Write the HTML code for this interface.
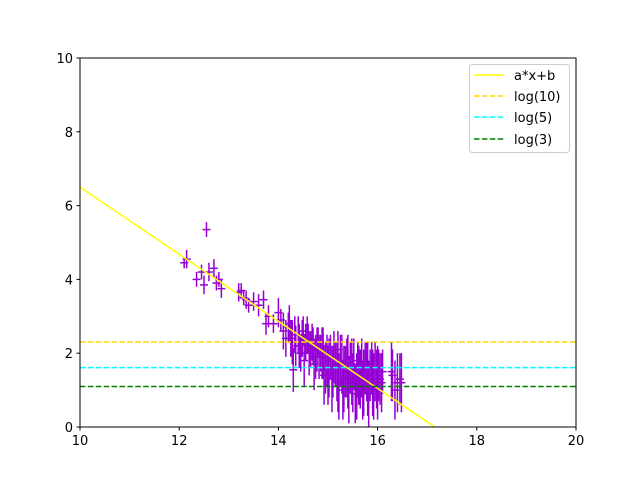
<!DOCTYPE html>
<html><head><meta charset="utf-8"><style>
html,body{margin:0;padding:0;background:#fff;width:640px;height:480px;overflow:hidden}
svg{display:block}
svg text{font-family:"DejaVu Sans","Liberation Sans",sans-serif;font-size:13px;fill:#000}
</style></head><body>
<svg id="chart" width="640" height="480" xmlns="http://www.w3.org/2000/svg">
<rect width="640" height="480" fill="#fff"/>
<g id="marks"></g>
<g id="axes"></g>
<g id="legend">
<rect x="469.5" y="64.5" width="100" height="88" rx="3" fill="#fff" fill-opacity="0.8" stroke="#ccc"/>
<line x1="474" y1="75" x2="504" y2="75" stroke="#ffff00" stroke-width="1.5"/>
<text x="514" y="80">a*x+b</text>
<line x1="474" y1="96" x2="504" y2="96" stroke="#ffd700" stroke-width="1.5" stroke-dasharray="5.5,2.4"/>
<text x="514" y="101">log(10)</text>
<line x1="474" y1="117" x2="504" y2="117" stroke="#00ffff" stroke-width="1.5" stroke-dasharray="5.5,2.4"/>
<text x="514" y="122">log(5)</text>
<line x1="474" y1="139" x2="504" y2="139" stroke="#008000" stroke-width="1.5" stroke-dasharray="5.5,2.4"/>
<text x="514" y="144">log(3)</text>
</g>
</svg>
<script>
const xs=[12.15,12.1,12.55,12.35,12.45,12.5,12.6,12.7,12.75,12.85,12.8,13.2,13.25,13.3,13.35,13.4,13.5,13.6,13.7,13.75,13.8,13.9,14.0,14.05,14.1,14.15,14.2,14.25,14.3,14.35,14.4,14.45,14.5,14.55,14.6,14.65,14.7,14.75,14.8,14.85,14.9,14.95,15.0,15.05,15.1,15.15,15.2,15.25,15.3,15.35,15.4,15.45,15.5,15.55,15.6,15.65,15.7,15.75,15.8,15.85,15.9,15.95,16.0,16.05,16.1,16.3,16.4,16.45,15.2,15.4,15.6,15.8,16.0,14.9,
14.22,14.28,14.33,14.42,14.48,14.52,14.58,14.62,14.68,14.72,14.78,14.82,14.88,14.92,14.98,15.02,15.08,15.12,15.18,15.22,15.28,15.32,15.38,15.42,15.48,15.52,15.58,15.62,15.68,15.72,15.78,15.82,15.88,15.92,15.98,16.02,16.08,16.28,16.35,16.48];
const ys=[4.55,4.45,5.35,4.0,4.2,3.85,4.2,4.3,3.9,3.75,4.0,3.65,3.7,3.5,3.45,3.3,3.4,3.3,3.45,2.8,3.0,2.8,3.1,2.9,2.6,2.4,2.7,2.4,1.55,2.2,2.5,2.0,2.6,2.3,2.4,2.1,2.2,1.9,2.3,2.0,2.2,1.6,1.4,1.9,1.5,1.7,1.2,1.8,1.0,1.5,1.3,1.6,1.2,0.9,1.5,1.3,1.0,1.6,1.1,1.4,1.2,1.5,1.0,1.3,1.5,1.4,1.2,1.3,2.1,1.9,1.8,1.7,1.6,1.9,
2.8,2.3,2.5,2.2,2.4,1.8,2.5,2.0,2.3,1.7,2.1,1.9,2.0,1.4,1.8,1.6,1.3,1.9,1.5,1.1,1.7,1.3,1.6,1.0,1.5,1.7,1.1,1.4,1.6,1.2,1.5,0.9,1.6,1.1,1.3,1.4,1.2,1.5,1.0,1.2];
const yerr=[0.25,0.15,0.2,0.2,0.2,0.25,0.25,0.25,0.2,0.25,0.2,0.25,0.2,0.2,0.25,0.2,0.25,0.3,0.25,0.3,0.3,0.25,0.4,0.3,0.5,0.5,0.4,0.5,0.6,0.55,0.5,0.5,0.4,0.5,0.4,0.5,0.5,0.6,0.4,0.5,0.5,0.7,0.8,0.6,0.7,0.6,0.8,0.7,0.8,0.7,0.8,0.7,0.8,0.8,0.7,0.8,0.8,0.7,0.8,0.7,0.9,0.8,0.8,0.7,0.6,0.7,0.8,0.7,0.5,0.6,0.5,0.6,0.6,0.6,
0.5,0.6,0.5,0.6,0.5,0.7,0.5,0.6,0.5,0.7,0.6,0.6,0.7,0.8,0.7,0.8,0.9,0.7,0.8,0.9,0.8,0.9,0.8,0.9,0.9,0.7,0.9,0.8,0.8,0.9,0.8,0.9,0.7,0.9,0.8,0.7,0.8,0.8,0.8,0.8];
const xerr=0.08;
const fitA=-0.909, fitB=15.59;
const hlines=[2.3026,1.6094,1.0986];
const hcolors=['#ffd700','#00ffff','#008000'];
const hnames=['log10-line','log5-line','log3-line'];
const xTicks=[10,12,14,16,18,20];
const yTicks=[0,2,4,6,8,10];
const X0=80,X1=576,Y0=427,Y1=58;
const sx=v=>X0+(v-10)/10*(X1-X0);
const sy=v=>Y0-(v/10)*(Y0-Y1);
const NS='http://www.w3.org/2000/svg';
function mk(tag,attrs,parent){const e=document.createElementNS(NS,tag);for(const k in attrs)e.setAttribute(k,attrs[k]);parent.appendChild(e);return e;}
const marks=document.getElementById('marks');
const clip=mk('clipPath',{id:'cp'},marks);mk('rect',{x:X0,y:Y1,width:X1-X0,height:Y0-Y1},clip);
const g=mk('g',{'clip-path':'url(#cp)'},marks);
for(let i=0;i<xs.length;i++){
 const eb=mk('g',{stroke:'#9400d3','stroke-width':1.5},g);
 
 
 mk('line',{x1:sx(xs[i]),x2:sx(xs[i]),y1:sy(ys[i]-yerr[i]),y2:sy(ys[i]+yerr[i])},eb);
 mk('line',{x1:sx(xs[i]-xerr),x2:sx(xs[i]+xerr),y1:sy(ys[i]),y2:sy(ys[i])},eb);
}
const fit=mk('line',{x1:sx(10),y1:sy(fitA*10+fitB),x2:sx(20),y2:sy(fitA*20+fitB),stroke:'#ffff00','stroke-width':1.5},g);


hlines.forEach((v,i)=>{
 const l=mk('line',{x1:X0,x2:X1,y1:sy(v),y2:sy(v),stroke:hcolors[i],'stroke-width':1.5,'stroke-dasharray':'5.5,2.4'},g);
 
 
});
const axes=document.getElementById('axes');
const fr=mk('rect',{x:X0,y:Y1,width:X1-X0,height:Y0-Y1,fill:'none',stroke:'#000','stroke-width':1},axes);


xTicks.forEach(t=>{
 mk('line',{x1:sx(t),x2:sx(t),y1:Y0,y2:Y0+3.5,stroke:'#000'},axes);
 const tx=mk('text',{x:sx(t),y:Y0+18,'text-anchor':'middle'},axes);tx.textContent=t;
 
 
});
yTicks.forEach(t=>{
 mk('line',{x1:X0-3.5,x2:X0,y1:sy(t),y2:sy(t),stroke:'#000'},axes);
 const tx=mk('text',{x:X0-7,y:sy(t)+5,'text-anchor':'end'},axes);tx.textContent=t;
 
 
});
</script>
</body></html>
